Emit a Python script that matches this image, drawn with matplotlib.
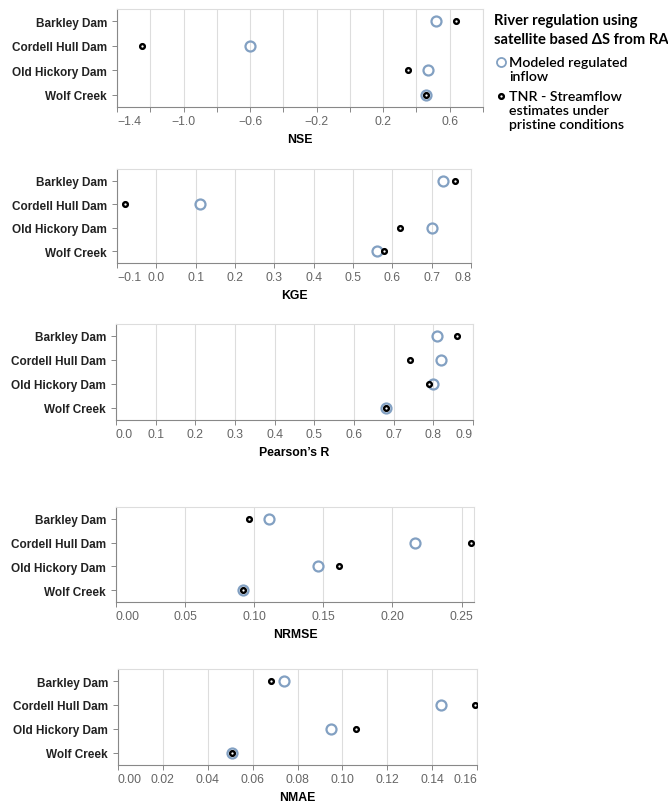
import matplotlib.pyplot as plt
from matplotlib.lines import Line2D

sites = ["Barkley Dam", "Cordell Hull Dam", "Old Hickory Dam", "Wolf Creek"]

# modeled regulated inflow vs TNR pristine streamflow, per metric
nse_modeled = [0.52, -0.60, 0.47, 0.46]
nse_tnr = [0.64, -1.25, 0.35, 0.46]
kge_modeled = [0.73, 0.11, 0.70, 0.56]
kge_tnr = [0.76, -0.08, 0.62, 0.58]
r_modeled = [0.81, 0.82, 0.80, 0.68]
r_tnr = [0.86, 0.74, 0.79, 0.68]
nrmse_modeled = [0.111, 0.216, 0.146, 0.092]
nrmse_tnr = [0.096, 0.257, 0.161, 0.092]
nmae_modeled = [0.074, 0.144, 0.095, 0.051]
nmae_tnr = [0.068, 0.159, 0.106, 0.051]

nse_ticks = [-1.4, -1.2, -1.0, -0.8, -0.6, -0.4, -0.2, 0.0, 0.2, 0.4, 0.6, 0.8]
nse_labels = ["−1.4", "", "−1.0", "", "−0.6", "", "−0.2", "", "0.2", "", "0.6", ""]
kge_ticks = [-0.1, 0.0, 0.1, 0.2, 0.3, 0.4, 0.5, 0.6, 0.7, 0.8]
r_ticks = [0.0, 0.1, 0.2, 0.3, 0.4, 0.5, 0.6, 0.7, 0.8, 0.9]
nrmse_ticks = [0.00, 0.05, 0.10, 0.15, 0.20, 0.25]
nmae_ticks = [0.00, 0.02, 0.04, 0.06, 0.08, 0.10, 0.12, 0.14, 0.16]

legend_title = ["River regulation using", "satellite based ΔS from RA"]
modeled_label = ["Modeled regulated", "inflow"]
tnr_label = ["TNR - Streamflow", "estimates under", "pristine conditions"]

BLUE = "#82a0c2"
W, H = 668, 803

plt.rcParams["font.family"] = ["Liberation Sans", "DejaVu Sans"]
fig = plt.figure(figsize=(W / 100, H / 100), dpi=100)


def px_axes(x0, x1, y0, y1):
    return fig.add_axes([x0 / W, 1 - y1 / H, (x1 - x0) / W, (y1 - y0) / H])


def dot_panel(ax, modeled, tnr, ticks, labels, xlim, title, flush_last=True):
    y = list(range(len(sites)))
    ax.plot(modeled, y, "o", ms=7.2, mfc="none", mec=BLUE, mew=1.6, zorder=3)
    ax.plot(tnr, y, "o", ms=3.4, mfc="white", mec="black", mew=1.7, zorder=4)
    ax.set_ylim(len(sites) - 0.5, -0.5)
    ax.set_yticks(y)
    ax.set_yticklabels(sites, fontsize=8.5, fontweight="bold", color="#222222")
    ax.set_xlim(*xlim)
    ax.set_xticks(ticks)
    ax.set_xticklabels(labels, fontsize=8.8, color="#666666")
    ax.grid(axis="x", color="#dddddd", lw=0.8)
    ax.set_axisbelow(True)
    for side in ["top", "right"]:
        ax.spines[side].set_color("#dddddd")
    for side in ["left", "bottom"]:
        ax.spines[side].set_color("#888888")
    for s in ax.spines.values():
        s.set_linewidth(0.8)
    ax.tick_params(axis="both", length=3.6, width=0.7, color="#888888")
    ax.tick_params(axis="y", pad=3.6)
    ax.tick_params(axis="x", pad=2.2)
    ax.set_xlabel(title, fontsize=8.8, fontweight="bold", labelpad=4)
    tl = ax.get_xticklabels()
    tl[0].set_ha("left")
    if flush_last:
        tl[-1].set_ha("right")


ax1 = px_axes(117, 483, 10, 108)
dot_panel(ax1, nse_modeled, nse_tnr, nse_ticks, nse_labels, (-1.4, 0.8), "NSE", flush_last=False)

ax2 = px_axes(117, 471, 170, 264)
dot_panel(ax2, kge_modeled, kge_tnr, kge_ticks, ["−0.1"] + [f"{t:.1f}" for t in kge_ticks[1:]], (-0.1, 0.8), "KGE")

ax3 = px_axes(116, 473, 325, 421)
dot_panel(ax3, r_modeled, r_tnr, r_ticks, [f"{t:.1f}" for t in r_ticks], (0, 0.9), "Pearson’s R")

ax4 = px_axes(116, 474, 508, 603)
dot_panel(ax4, nrmse_modeled, nrmse_tnr, nrmse_ticks, [f"{t:.2f}" for t in nrmse_ticks], (0, 0.259), "NRMSE", flush_last=False)

ax5 = px_axes(118, 477, 670, 766)
dot_panel(ax5, nmae_modeled, nmae_tnr, nmae_ticks, [f"{t:.2f}" for t in nmae_ticks], (0, 0.16), "NMAE")

# legend block on the right, laid out in pixel units
lg = fig.add_axes([0, 0, 1, 1], zorder=10)
lg.set_xlim(0, W)
lg.set_ylim(H, 0)
lg.axis("off")
lg.patch.set_alpha(0)
fam = ["Lato", "DejaVu Sans"]
for i, line in enumerate(legend_title):
    lg.text(494, 21 + 19 * i, line, fontsize=10.6, fontweight="bold", family=fam, va="center")

lg.add_line(Line2D([501], [63], marker="o", ms=6.5, mfc="none", mec=BLUE, mew=1.3))
for i, line in enumerate(modeled_label):
    lg.text(509, 63 + 14 * i, line, fontsize=10.2, fontweight="semibold", family=fam, va="center")

lg.add_line(Line2D([501], [97], marker="o", ms=3.4, mfc="white", mec="black", mew=1.7))
for i, line in enumerate(tnr_label):
    lg.text(509, 97 + 14 * i, line, fontsize=10.2, fontweight="semibold", family=fam, va="center")

fig.savefig("out.png", dpi=100)
